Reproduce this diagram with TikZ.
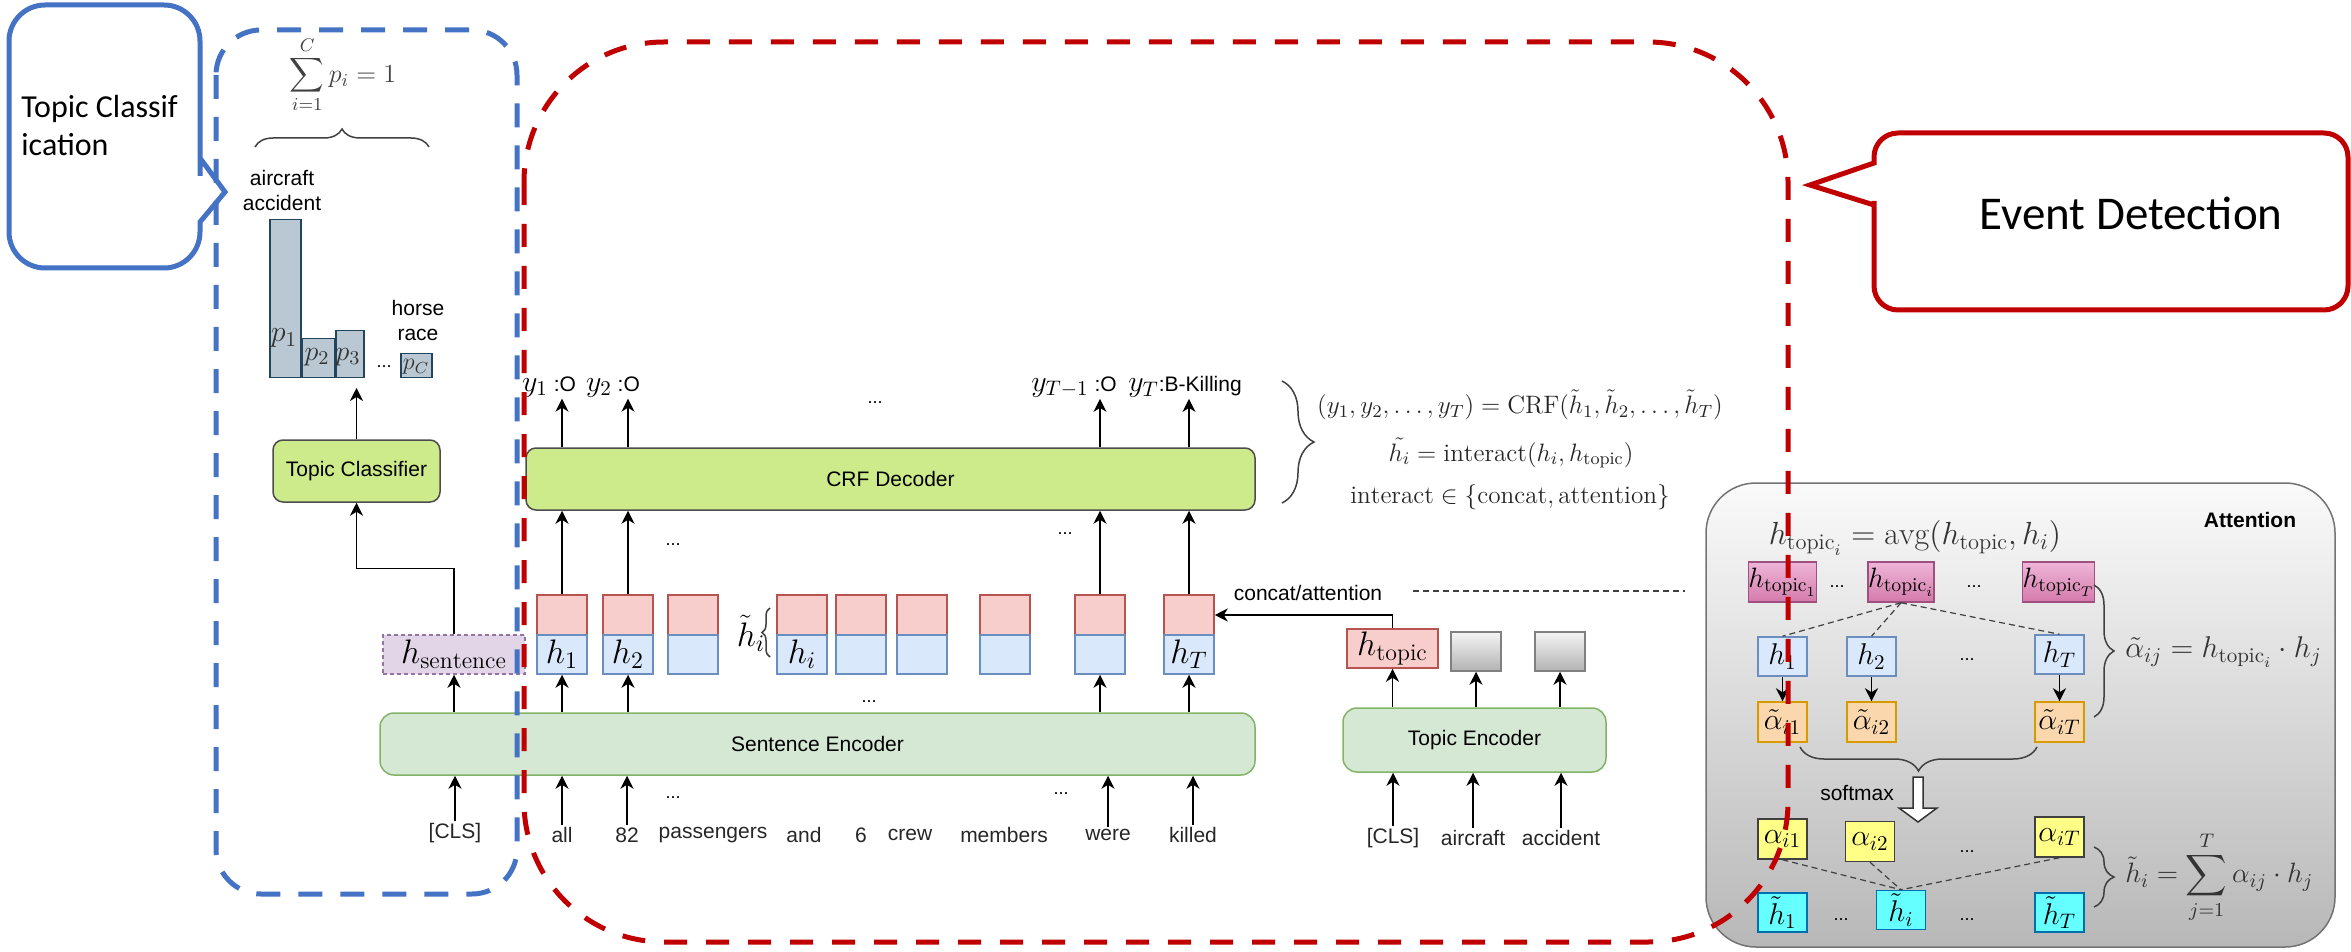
\RequirePackage{fix-cm}
\documentclass[tikz,border=0pt]{standalone}
\usepackage{fontspec}
\usepackage{amsmath}
\usetikzlibrary{arrows.meta,decorations.pathreplacing}
\newfontfamily\sansfont{Liberation Sans}
\newfontfamily\callfont{Carlito}

\definecolor{crfgreen}{HTML}{CDEB8B}
\definecolor{encgreen}{HTML}{D5E8D4}
\definecolor{encline}{HTML}{82B366}
\definecolor{pinkfill}{HTML}{F8CECC}
\definecolor{pinkline}{HTML}{B85450}
\definecolor{bluefill}{HTML}{DAE8FC}
\definecolor{blueline}{HTML}{6C8EBF}
\definecolor{purplefill}{HTML}{E1D5E7}
\definecolor{purpleline}{HTML}{9673A6}
\definecolor{barfill}{HTML}{BAC8D3}
\definecolor{barline}{HTML}{23445D}
\definecolor{orangefill}{HTML}{FAD7AC}
\definecolor{orangeline}{HTML}{D79B00}
\definecolor{yellowfill}{HTML}{FFFF88}
\definecolor{cyanfill}{HTML}{66FFFF}
\definecolor{cyanline}{HTML}{006EAF}
\definecolor{magtop}{HTML}{EEB6D8}
\definecolor{magbot}{HTML}{D47AAB}
\definecolor{magline}{HTML}{A05080}
\definecolor{framered}{HTML}{C00000}
\definecolor{frameblue}{HTML}{4472C4}

\tikzset{
  arr/.style={-{Stealth[length=6.5pt,width=6.5pt,inset=2pt]}, line width=0.75pt},
  sans/.style={font=\sansfont\fontsize{10.5}{12.5}\selectfont, inner sep=1pt},
  words/.style={sans, text=black!85},
  dots/.style={font=\sansfont\fontsize{9}{10}\selectfont, inner sep=0pt},
  crfbox/.style={draw=black!70, fill=crfgreen, line width=0.75pt, rounded corners=5pt, sans},
  encbox/.style={draw=encline, fill=encgreen, line width=0.75pt, rounded corners=7pt, sans},
  cell/.style={line width=0.75pt, inner sep=0pt, minimum width=25pt},
  topcell/.style={cell, draw=pinkline, fill=pinkfill, minimum height=20pt},
  hcell/.style={cell, draw=blueline, fill=bluefill, minimum height=19.5pt, font=\fontsize{17}{20}\selectfont},
  sentcell/.style={cell, draw=purpleline, fill=purplefill, dash pattern=on 2pt off 1.5pt, minimum width=71pt, minimum height=19.5pt, font=\fontsize{17}{20}\selectfont},
  topiccell/.style={cell, draw=pinkline, fill=pinkfill, minimum width=45.5pt, minimum height=19.5pt, font=\fontsize{17}{20}\selectfont},
  graycell/.style={cell, draw=black!50, top color=black!4, bottom color=black!30, minimum height=19.5pt},
  bar/.style={draw=barline, fill=barfill, line width=0.6pt, inner sep=0pt, anchor=south},
  plab/.style={inner sep=0pt, text=black!80},
  ylab/.style={sans, inner sep=0.5pt},
  eq/.style={font=\fontsize{12.6}{15}\selectfont, text=black!85, inner sep=0pt},
  brace/.style={decorate, line width=0.75pt, draw=black!75},
  magcell/.style={cell, draw=magline, top color=magtop, bottom color=magbot, minimum width=32.5pt, minimum height=20pt, font=\fontsize{14}{16}\selectfont},
  acell/.style={cell, draw=blueline, fill=bluefill, minimum width=24.5pt, minimum height=19.5pt, font=\fontsize{15}{18}\selectfont},
  ocell/.style={acell, draw=orangeline, fill=orangefill, minimum height=20pt},
  ycell/.style={acell, draw=black!75, fill=yellowfill, minimum height=20pt},
  ccell/.style={acell, draw=cyanline, fill=cyanfill},
  attform/.style={font=\fontsize{15}{18}\selectfont, text=black!80, inner sep=0pt},
  link/.style={draw=black!75, line width=0.6pt, dash pattern=on 3pt off 2pt},
}

\begin{document}
\begin{tikzpicture}[x=0.5pt,y=-0.5pt]
\useasboundingbox (0,0) rectangle (2351,952);

\draw[draw=black!55, line width=0.75pt, rounded corners=25pt, top color=black!2, bottom color=black!28]
      (1706,483) rectangle (2335,947);

% topic classifier side
\node[font=\fontsize{13}{15}\selectfont, text=black!75] (psum) at (343,75) {$\displaystyle\sum_{i=1}^{C} p_i = 1$};
\draw[brace, decoration={brace, amplitude=9pt}] (255,147) -- (429,147);
\node[sans, align=center] (cat1) at (282,190) {aircraft\\accident};
\node[sans, align=center] (cat2) at (418,320) {horse\\race};
\node[bar, minimum width=15.5pt, minimum height=79pt] (bar1) at (285.5,378) {};
\node[bar, minimum width=16.5pt, minimum height=19.5pt] (bar2) at (318.5,378) {};
\node[bar, minimum width=14pt, minimum height=23.5pt] (bar3) at (350,378) {};
\node[bar, minimum width=15.5pt, minimum height=12pt] (barC) at (416.5,378) {};
\node[plab, font=\fontsize{15}{18}\selectfont] (lp1) at (284,338) {$p_1$};
\node[plab, font=\fontsize{14}{16}\selectfont] (lp2) at (317,357) {$p_2$};
\node[plab, font=\fontsize{14}{16}\selectfont] (lp3) at (348,357) {$p_3$};
\node[plab, font=\fontsize{12}{14}\selectfont] (lpC) at (416,367) {$p_C$};
\node[dots] (bdots) at (384,367) {...};

\node[crfbox, minimum width=83.5pt, minimum height=31pt] (tcls) at (356.5,471) {Topic Classifier};
\draw[arr, shorten >=5pt] (tcls.north) -- (tcls.north |- bar3.south);

\node[sentcell] (hsent) at (454,654.5) {$h_{\mathrm{sentence}}$};
\draw[arr] (hsent.north) -- ++(0,-66) -| (tcls.south);

% encoder, token states, decoder
\node[encbox, minimum width=437.5pt, minimum height=31pt] (senc) at (817.5,744) {Sentence Encoder};
\draw[arr] (senc.north -| hsent) -- (hsent.south);
\node[words] (w0) at (455,833) {[CLS]};
\draw[arr] (w0.north) -- (senc.south -| w0.north);
\foreach \n/\x/\w in {1/562/all, 2/627/82, 3/713/passengers, 4/804/and, 5/861/6,
                      6/910/crew, 7/1004/members, 8/1108/were, 9/1193/killed}
  \node[words] (w\n) at (\x,835) {\w};
\foreach \n in {1,2,8,9}
  \draw[arr] (w\n.north) -- (senc.south -| w\n.north);

\foreach \n/\x/\lab in {1/562/{$h_1$}, 2/628/{$h_2$}, 3/693/{}, 4/802/{$h_i$}, 5/861/{},
                        6/922/{}, 7/1005/{}, 8/1100/{}, 9/1189/{$h_T$}} {
  \node[topcell] (tp\n) at (\x,615) {};
  \node[hcell] (hb\n) at (\x,654.5) {\lab};
}
\node[font=\fontsize{17}{20}\selectfont, inner sep=0pt] (htil) at (751,633) {$\tilde{h}_i$};
\draw[brace, decoration={brace, amplitude=4pt}] (770,657) -- (770,608);

\node[crfbox, minimum width=364.5pt, minimum height=31pt] (crf) at (890.5,479) {CRF Decoder};
\foreach \n in {1,2,8,9} {
  \draw[arr] (senc.north -| hb\n) -- (hb\n.south);
  \draw[arr] (tp\n.north) -- (crf.south -| tp\n);
}

\node[ylab] (yl1) at (549,387) {{\fontsize{15}{18}\selectfont$y_1$} :O};
\node[ylab] (yl2) at (613,387) {{\fontsize{15}{18}\selectfont$y_2$} :O};
\node[ylab] (yl8) at (1074,387) {{\fontsize{15}{18}\selectfont$y_{T-1}$} :O};
\node[ylab] (yl9) at (1185,387) {{\fontsize{15}{18}\selectfont$y_T$}:B-Killing};
\draw[arr] (crf.north -| tp1) -- (yl1.south -| tp1);
\draw[arr] (crf.north -| tp2) -- (yl2.south -| tp2);
\draw[arr] (crf.north -| tp8) -- (yl8.south -| tp8);
\draw[arr] (crf.north -| tp9) -- (yl9.south -| tp9);

\node[dots] (d1) at (875,403) {...};
\node[dots] (d2) at (673,545) {...};
\node[dots] (d3) at (1065,534) {...};
\node[dots] (d4) at (869,702) {...};
\node[dots] (d5) at (673,798) {...};
\node[dots] (d6) at (1061,794) {...};

\draw[brace, decoration={brace, amplitude=16pt}] (1282,381) -- (1282,503);
\node[eq] (eqa) at (1520,405) {$(y_1, y_2, \ldots, y_T) = \mathrm{CRF}(\tilde{h}_1, \tilde{h}_2, \ldots, \tilde{h}_T)$};
\node[eq] (eqb) at (1511,453) {$\tilde{h_i} = \mathrm{interact}(h_i, h_{\mathrm{topic}})$};
\node[eq] (eqc) at (1510,497) {$\mathrm{interact} \in \{\mathrm{concat}, \mathrm{attention}\}$};

% topic encoder
\node[encbox, minimum width=131.5pt, minimum height=32pt] (tenc) at (1474.5,740) {Topic Encoder};
\node[topiccell] (htop) at (1392.5,648.5) {$h_{\mathrm{topic}}$};
\node[graycell] (g1) at (1476,651.5) {};
\node[graycell] (g2) at (1560,651.5) {};
\foreach \b in {htop,g1,g2}
  \draw[arr] (tenc.north -| \b) -- (\b.south);
\node[words] (tw1) at (1393,838) {[CLS]};
\node[words] (tw2) at (1473,838) {aircraft};
\node[words] (tw3) at (1561,838) {accident};
\foreach \n in {1,2,3}
  \draw[arr] (tw\n.north) -- (tenc.south -| tw\n.north);
\node[sans] (catt) at (1308,593) {concat/attention};
\draw[arr] (htop.north) |- (tp9.east);
\coordinate (linkA) at (1413,591);
\coordinate (linkB) at (1685,591);
\draw[link] (linkA) -- (linkB);

% attention panel
\node[sans, font=\sansfont\bfseries\fontsize{10.5}{12.5}\selectfont] (atitle) at (2250,520) {Attention};
\node[attform, font=\fontsize{16}{19}\selectfont] (avg) at (1915,538) {$h_{\mathrm{topic}_i} = \mathrm{avg}(h_{\mathrm{topic}}, h_i)$};
\node[magcell] (ht1) at (1782.5,582) {$h_{\mathrm{topic}_1}$};
\node[magcell] (hti) at (1901,582) {$h_{\mathrm{topic}_i}$};
\node[magcell] (htT) at (2058.5,582) {$h_{\mathrm{topic}_T}$};
\node[acell] (ah1) at (1782.5,656.5) {$h_1$};
\node[acell] (ah2) at (1871.5,656.5) {$h_2$};
\node[acell] (ahT) at (2059.5,654.5) {$h_T$};
\node[ocell] (at1) at (1782.5,722) {$\tilde{\alpha}_{i1}$};
\node[ocell] (at2) at (1871.5,722) {$\tilde{\alpha}_{i2}$};
\node[ocell] (atT) at (2059.5,722) {$\tilde{\alpha}_{iT}$};
\node[ycell] (ay1) at (1782.5,839) {$\alpha_{i1}$};
\node[ycell] (ay2) at (1870,841.5) {$\alpha_{i2}$};
\node[ycell] (ayT) at (2059.5,837) {$\alpha_{iT}$};
\node[ccell] (hc1) at (1782.5,912.5) {$\tilde{h}_1$};
\node[ccell] (hci) at (1901,910) {$\tilde{h}_i$};
\node[ccell] (hcT) at (2059.5,912.5) {$\tilde{h}_T$};
\foreach \p/\q in {1837/587, 1974/587, 1967/660, 1967/852, 1841/920, 1967/920}
  \node[dots] at (\p,\q) {...};

\foreach \b in {ah1,ah2,ahT}
  \draw[link] (hti.south) -- (\b.north);
\draw[arr] (ah1.south) -- (at1.north);
\draw[arr] (ah2.south) -- (at2.north);
\draw[arr] (ahT.south) -- (atT.north);
\foreach \b in {ay1,ay2,ayT}
  \draw[link] (\b.south) -- (hci.north);

\draw[brace, decoration={brace, amplitude=10pt}] (2094,585) -- (2094,717);
\node[attform, anchor=west] (aform) at (2125,652) {$\tilde{\alpha}_{ij} = h_{\mathrm{topic}_i} \cdot h_j$};
\draw[brace, decoration={brace, amplitude=10pt}] (2094,847) -- (2094,907);
\node[attform, font=\fontsize{14}{17}\selectfont, anchor=west] (hform) at (2125,877) {$\tilde{h}_i = \displaystyle\sum_{j=1}^{T} \alpha_{ij} \cdot h_j$};
\draw[brace, decoration={brace, amplitude=12pt}] (2037,747) -- (1800,747);
\draw[fill=white, draw=black!80, line width=0.75pt] (1913,777) -- (1923,777) -- (1923,808) -- (1937,808)
      -- (1918,822) -- (1899,808) -- (1913,808) -- cycle;
\node[sans] (smax) at (1857,793) {softmax};

% callouts
\draw[frameblue, line width=2.5pt, rounded corners=18pt] (9,130) -- (9,5) -- (200,5) -- (200,140)
      [sharp corners] -- (200,158) -- (225,192) -- (200,222) -- (200,226)
      [rounded corners=18pt] -- (200,268) -- (9,268) -- cycle;
\node[font=\callfont\fontsize{16}{19}\selectfont, align=left, anchor=west, inner sep=0pt] (tctxt) at (21,126) {Topic Classif\\ication};
\draw[framered, line width=2.5pt, rounded corners=12pt] (2348,220) -- (2348,310) -- (1874,310) -- (1874,225)
      [sharp corners] -- (1874,205) -- (1810,185) -- (1874,163) -- (1874,160)
      [rounded corners=12pt] -- (1874,133) -- (2348,133) -- cycle;
\node[font=\callfont\fontsize{23.5}{28}\selectfont, inner sep=0pt] (edtxt) at (2131,213) {Event Detection};

% dashed frames
\draw[frameblue, line width=2.5pt, dash pattern=on 12pt off 9pt, rounded corners=22.5pt] (216,30) rectangle (517,894);
\draw[framered, line width=2.5pt, dash pattern=on 11.5pt off 9.5pt, rounded corners=70pt] (524,42) rectangle (1788,942);
\end{tikzpicture}
\end{document}
